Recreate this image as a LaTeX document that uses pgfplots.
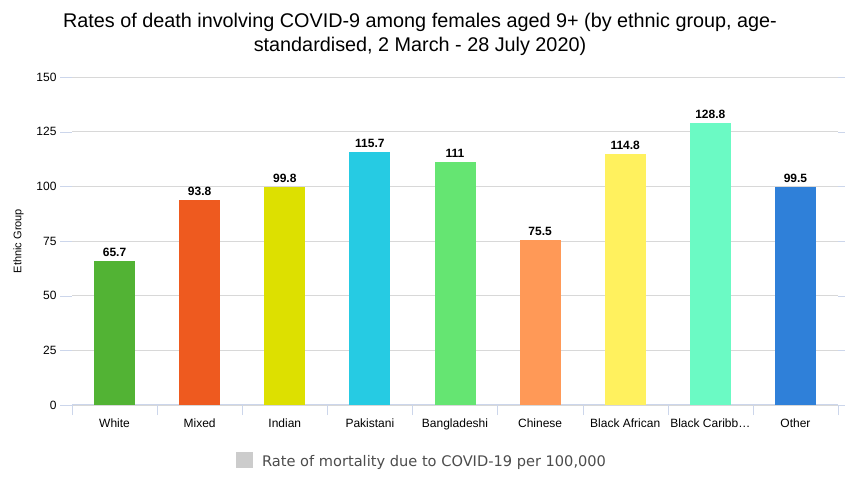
\documentclass[border=0pt]{standalone}
\usepackage{pgfplots}
\pgfplotsset{compat=1.18}
\usepackage{fontspec}
\setmainfont{Liberation Sans}
\newfontfamily\legfont{DejaVu Sans}

\definecolor{cWhite}{HTML}{52B334}
\definecolor{cMixed}{HTML}{EE5A1F}
\definecolor{cIndian}{HTML}{DDE000}
\definecolor{cPak}{HTML}{26CBE3}
\definecolor{cBang}{HTML}{65E572}
\definecolor{cChin}{HTML}{FF9957}
\definecolor{cBAf}{HTML}{FFF15E}
\definecolor{cBCa}{HTML}{6BFAC4}
\definecolor{cOther}{HTML}{2F80D9}
\definecolor{gridc}{HTML}{D8D8D8}
\definecolor{axisc}{HTML}{CCD6EB}

\begin{document}
\begin{tikzpicture}[x=1pt,y=1pt]
\path[use as bounding box] (0,0) rectangle (845,481);
\node[align=center,font=\fontsize{19.8}{24}\selectfont] at (420,447)
  {Rates of death involving COVID-9 among females aged 9+ (by ethnic group, age-\\standardised, 2 March - 28 July 2020)};
\begin{axis}[
  at={(72pt,76pt)}, anchor=south west,
  scale only axis, width=766pt, height=328pt,
  xmin=-0.5, xmax=8.5, ymin=0, ymax=150,
  ytick={0,25,...,150},
  xtick={0,...,8},
  xticklabels={White,Mixed,Indian,Pakistani,Bangladeshi,Chinese,Black African,Black Caribb…,Other},
  minor xtick={-0.5,0.5,...,8.5},
  tick align=outside,
  major x tick style={draw=none},
  minor tick length=10pt,
  minor x tick style={axisc},
  major tick length=12pt,
  major y tick style={axisc},
  ymajorgrids, grid style={gridc},
  axis line style={draw=none},
  axis x line*=bottom,
  x axis line style={draw=axisc, line width=1pt},
  ticklabel style={font=\fontsize{12}{14}\selectfont, /pgf/number format/assume math mode=true},
  xticklabel style={yshift=2pt},
  ylabel={Ethnic Group},
  ylabel style={font=\fontsize{11}{13}\selectfont, yshift=6pt},
  ybar, bar width=41pt, bar shift=0pt,
  nodes near coords,
  nodes near coords style={font=\bfseries\fontsize{12}{14}\selectfont, black, yshift=1pt,
    /pgf/number format/assume math mode=true},
  legend style={at={(0.457,-0.171)}, anchor=center, draw=none,
    font=\legfont\fontsize{14.6}{17}\selectfont, text=black!70},
  legend image code/.code={\fill[#1] (0pt,-7pt) rectangle (17pt,9pt); \path (24pt,0pt);},
  clip=false,
]
\addplot[fill=cWhite, draw=none, forget plot] coordinates {(0,65.7)};
\addplot[fill=cMixed, draw=none, forget plot] coordinates {(1,93.8)};
\addplot[fill=cIndian, draw=none, forget plot] coordinates {(2,99.8)};
\addplot[fill=cPak, draw=none, forget plot] coordinates {(3,115.7)};
\addplot[fill=cBang, draw=none, forget plot] coordinates {(4,111)};
\addplot[fill=cChin, draw=none, forget plot] coordinates {(5,75.5)};
\addplot[fill=cBAf, draw=none, forget plot] coordinates {(6,114.8)};
\addplot[fill=cBCa, draw=none, forget plot] coordinates {(7,128.8)};
\addplot[fill=cOther, draw=none, forget plot] coordinates {(8,99.5)};
\addlegendimage{fill=gray!40, draw=none}
\addlegendentry{Rate of mortality due to COVID-19 per 100,000}
\end{axis}
\end{tikzpicture}
\end{document}
